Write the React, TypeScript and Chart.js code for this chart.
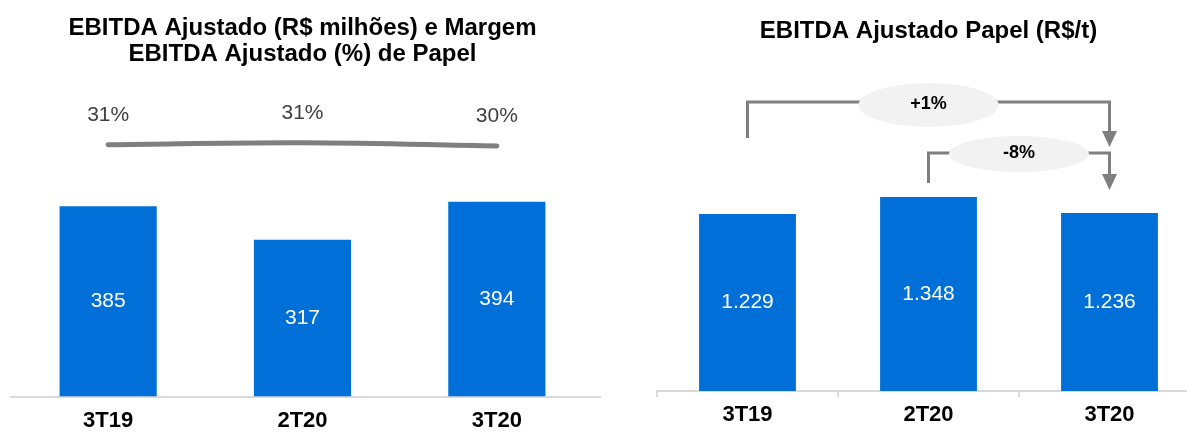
import React, { useEffect, useRef } from "react";
import { Chart, registerables } from "chart.js";

Chart.register(...registerables);

// ---------- data ----------
const categories = ["3T19", "2T20", "3T20"];
const ebitdaValues = [385, 317, 394];
const marginValues = [30.7, 31.2, 30.4];
const marginLabels = ["31%", "31%", "30%"];
const perTonValues = [1229, 1348, 1236];
const changeLabels = ["+1%", "-8%"]; // 3T19→3T20, 2T20→3T20
const leftTitle = ["EBITDA Ajustado (R$ milhões) e Margem", "EBITDA Ajustado (%) de Papel"];
const rightTitle = "EBITDA Ajustado Papel (R$/t)";

// ---------- styles ----------
const FONT = '"Liberation Sans", Arial, sans-serif';
const BLUE = "#0070D8";
const AXIS = "#d9d9d9";
const GREY = "#7f7f7f";

function fmtBR(v: number): string {
  return String(Math.round(v)).replace(/\B(?=(\d{3})+(?!\d))/g, ".");
}

const barLabelPlugin = (fmt: (v: number) => string) => ({
  id: "barLabels",
  afterDatasetsDraw(chart: any) {
    const ctx = chart.ctx;
    ctx.save();
    ctx.font = `21px ${FONT}`;
    ctx.fillStyle = "#ffffff";
    ctx.textAlign = "center";
    ctx.textBaseline = "middle";
    chart.data.datasets.forEach((ds: any, i: number) => {
      const meta = chart.getDatasetMeta(i);
      if (meta.type !== "bar") return;
      meta.data.forEach((el: any, j: number) => {
        const { x, y, base } = el.getProps(["x", "y", "base"], true);
        ctx.fillText(fmt(ds.data[j]), x, (y + base) / 2);
      });
    });
    ctx.restore();
  },
});

const marginLabelPlugin = {
  id: "marginLabels",
  afterDatasetsDraw(chart: any) {
    const ctx = chart.ctx;
    ctx.save();
    ctx.font = `21px ${FONT}`;
    ctx.fillStyle = "#404040";
    ctx.textAlign = "center";
    ctx.textBaseline = "middle";
    chart.data.datasets.forEach((ds: any, i: number) => {
      const meta = chart.getDatasetMeta(i);
      if (meta.type !== "line") return;
      meta.data.forEach((el: any, j: number) => {
        ctx.fillText(marginLabels[j], el.x, el.y - 30);
      });
    });
    ctx.restore();
  },
};

const axisExtendPlugin = {
  id: "axisExtend",
  afterDraw(chart: any) {
    const { ctx, chartArea, scales } = chart;
    const y = Math.round(scales.x.top);
    ctx.save();
    ctx.strokeStyle = AXIS;
    ctx.lineWidth = 2;
    ctx.beginPath();
    ctx.moveTo(chartArea.right - 1, y);
    ctx.lineTo(chartArea.right + 7, y);
    ctx.stroke();
    ctx.restore();
  },
};

function drawBracket(ctx: CanvasRenderingContext2D, x0: number, x1: number, yStart: number, yLevel: number, yTip: number) {
  const headH = 16;
  const headW = 15;
  ctx.beginPath();
  ctx.moveTo(x0, yStart);
  ctx.lineTo(x0, yLevel);
  ctx.lineTo(x1, yLevel);
  ctx.lineTo(x1, yTip - headH + 1);
  ctx.stroke();
  ctx.beginPath();
  ctx.moveTo(x1 - headW / 2, yTip - headH);
  ctx.lineTo(x1 + headW / 2, yTip - headH);
  ctx.lineTo(x1, yTip);
  ctx.closePath();
  ctx.fill();
}

function drawBubble(ctx: CanvasRenderingContext2D, cx: number, cy: number, rx: number, ry: number, text: string) {
  ctx.beginPath();
  ctx.ellipse(cx, cy, rx, ry, 0, 0, Math.PI * 2);
  ctx.fillStyle = "#f2f2f2";
  ctx.fill();
  ctx.fillStyle = "#000000";
  ctx.font = `bold 18px ${FONT}`;
  ctx.textAlign = "center";
  ctx.textBaseline = "middle";
  ctx.fillText(text, cx, cy - 1);
}

const changePlugin = {
  id: "changes",
  afterDraw(chart: any) {
    const { ctx, chartArea, scales } = chart;
    const xs = categories.map((_, i) => scales.x.getPixelForValue(i));
    const top = chartArea.top;
    ctx.save();
    ctx.strokeStyle = GREY;
    ctx.fillStyle = GREY;
    ctx.lineWidth = 3;
    ctx.lineJoin = "miter";
    drawBracket(ctx, xs[0], xs[2], top + 68, top + 32, top + 77);
    ctx.strokeStyle = GREY;
    ctx.fillStyle = GREY;
    drawBracket(ctx, xs[1], xs[2], top + 113, top + 83, top + 120);
    drawBubble(ctx, (xs[0] + xs[2]) / 2, top + 35, 70, 22, changeLabels[0]);
    drawBubble(ctx, (xs[1] + xs[2]) / 2, top + 84, 70, 18, changeLabels[1]);
    ctx.restore();
  },
};

export default function App() {
  const leftRef = useRef<HTMLCanvasElement>(null);
  const rightRef = useRef<HTMLCanvasElement>(null);

  useEffect(() => {
    const left = new Chart(leftRef.current as HTMLCanvasElement, {
      type: "bar",
      data: {
        labels: categories,
        datasets: [
          {
            type: "line",
            data: marginValues,
            yAxisID: "y1",
            borderColor: GREY,
            borderWidth: 5,
            tension: 0.4,
            pointRadius: 0,
            borderCapStyle: "round",
            fill: false,
          } as any,
          {
            type: "bar",
            data: ebitdaValues,
            yAxisID: "y",
            backgroundColor: BLUE,
            barPercentage: 0.5,
            categoryPercentage: 1,
          },
        ],
      },
      options: {
        animation: false,
        responsive: false,
        maintainAspectRatio: false,
        layout: { padding: { left: 11, right: 26, top: 15, bottom: 15 } },
        plugins: {
          legend: { display: false },
          tooltip: { enabled: false },
          title: {
            display: true,
            text: leftTitle,
            color: "#000000",
            font: { family: FONT, size: 24, weight: "bold", lineHeight: "26px" } as any,
            padding: { top: 0, bottom: 13 },
          },
        },
        scales: {
          x: {
            offset: true,
            grid: { display: false, drawTicks: false, offset: true },
            border: { display: true, color: AXIS, width: 2 },
            ticks: { color: "#000000", padding: 11, font: { family: FONT, size: 22, weight: "bold", lineHeight: 1.2 } as any },
          },
          y: { display: false, min: 0, max: 640 },
          y1: { display: false, min: -32.2, max: 46.9 },
        },
      } as any,
      plugins: [barLabelPlugin((v) => String(v)), marginLabelPlugin, axisExtendPlugin],
    });

    const right = new Chart(rightRef.current as HTMLCanvasElement, {
      type: "bar",
      data: {
        labels: categories,
        datasets: [
          {
            data: perTonValues,
            backgroundColor: BLUE,
            barPercentage: 0.535,
            categoryPercentage: 1,
          },
        ],
      },
      options: {
        animation: false,
        responsive: false,
        maintainAspectRatio: false,
        layout: { padding: { left: 37, right: 10, top: 18, bottom: 26.6 } },
        plugins: {
          legend: { display: false },
          tooltip: { enabled: false },
          title: {
            display: true,
            text: rightTitle,
            color: "#000000",
            font: { family: FONT, size: 24, weight: "bold", lineHeight: "26px" } as any,
            padding: { top: 0, bottom: 26 },
          },
        },
        scales: {
          x: {
            offset: true,
            grid: { display: true, drawOnChartArea: false, drawTicks: true, tickLength: 6, color: AXIS, lineWidth: 2, offset: true },
            border: { display: true, color: AXIS, width: 2 },
            ticks: { color: "#000000", padding: 5, font: { family: FONT, size: 22, weight: "bold", lineHeight: 1.2 } as any },
          },
          y: { display: false, min: 0, max: 2230 },
        },
      } as any,
      plugins: [barLabelPlugin(fmtBR), changePlugin],
    });

    return () => {
      left.destroy();
      right.destroy();
    };
  }, []);

  return (
    <div style={{ position: "fixed", left: 0, top: 0, width: 1187, height: 432, overflow: "hidden", background: "#ffffff" }}>
      <canvas ref={leftRef} width={620} height={460} style={{ position: "absolute", left: 0, top: 0 }} />
      <canvas ref={rightRef} width={590} height={460} style={{ position: "absolute", left: 620, top: 0 }} />
    </div>
  );
}
